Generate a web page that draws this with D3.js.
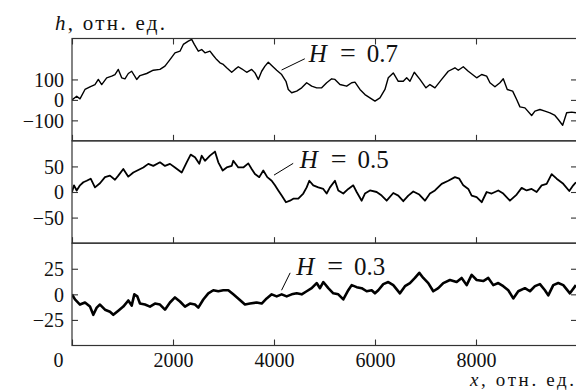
<!DOCTYPE html>
<html>
<head>
<meta charset="utf-8">
<script src="https://cdn.jsdelivr.net/npm/d3@7"></script>
<style>
  body { margin: 0; background: #fff; }
  svg { display: block; }
</style>
</head>
<body>
<svg id="chart" width="576" height="392"></svg>
<script>
// tick labels
const xTicks = [0, 2000, 4000, 6000, 8000]
const ticks07 = [-100, 0, 100]
const ticks05 = [-50, 0, 50]
const ticks03 = [-25, 0, 25]

// traces: [x, h]
const h07 = [
  [0, 0], [93, 18], [158, 5], [257, 51], [356, 64], [455, 75], [521, 100], [588, 75],
  [687, 108], [786, 116], [851, 124], [917, 149], [984, 108], [1049, 103], [1115, 129],
  [1182, 140], [1281, 100], [1346, 119], [1479, 129], [1610, 145], [1742, 149], [1841, 165],
  [1940, 197], [2039, 230], [2138, 238], [2204, 271], [2303, 287], [2370, 296], [2422, 271],
  [2501, 238], [2568, 246], [2633, 230], [2732, 238], [2798, 217], [2865, 197], [2930, 181],
  [2996, 173], [3063, 157], [3162, 135], [3227, 149], [3293, 162], [3360, 152], [3459, 135],
  [3558, 149], [3623, 132], [3689, 100], [3756, 140], [3821, 165], [3887, 184], [3954, 168],
  [4053, 145], [4152, 124], [4237, 91], [4283, 51], [4350, 35], [4449, 43], [4548, 59],
  [4647, 84], [4746, 67], [4845, 59], [4944, 59], [5043, 84], [5142, 103], [5207, 100],
  [5306, 75], [5439, 67], [5538, 84], [5603, 87], [5702, 51], [5801, 26], [5900, 10],
  [5999, -6], [6098, 10], [6197, 51], [6263, 108], [6362, 132], [6461, 91], [6560, 91],
  [6627, 108], [6692, 91], [6778, 135], [6890, 100], [7009, 59], [7088, 75], [7187, 59],
  [7320, 100], [7451, 140], [7583, 157], [7649, 145], [7748, 162], [7847, 140], [8013, 108],
  [8112, 124], [8211, 116], [8276, 84], [8375, 64], [8474, 84], [8540, 103], [8619, 51],
  [8726, 43], [8805, 2], [8870, -34], [8969, -39], [9102, -76], [9167, -55], [9266, -47],
  [9365, -55], [9464, -63], [9563, -76], [9629, -96], [9716, -124], [9795, -63], [9894, -60],
  [9979, -63]
]

const h05 = [
  [0, 0], [40, 13], [93, 3], [158, 13], [224, 19], [291, 22], [370, 26], [455, 9], [554, 17],
  [653, 29], [752, 32], [851, 24], [917, 32], [1016, 45], [1115, 30], [1214, 38], [1313, 43],
  [1412, 48], [1511, 55], [1610, 51], [1742, 58], [1841, 51], [1940, 55], [2039, 48],
  [2172, 38], [2271, 58], [2350, 73], [2435, 68], [2521, 55], [2568, 71], [2633, 61],
  [2732, 71], [2831, 79], [2897, 58], [2984, 42], [3063, 48], [3162, 51], [3194, 61],
  [3293, 48], [3392, 48], [3491, 56], [3558, 45], [3623, 35], [3709, 29], [3788, 42],
  [3867, 29], [3954, 22], [4019, 13], [4085, 3], [4152, -7], [4237, -20], [4316, -17],
  [4382, -13], [4481, -13], [4580, -3], [4647, 9], [4699, 22], [4778, 13], [4877, 9],
  [4976, 6], [5043, -3], [5108, 9], [5207, 22], [5273, 3], [5372, -3], [5471, 6], [5570, 13],
  [5637, 0], [5736, -17], [5801, -3], [5900, 3], [6033, 0], [6132, -7], [6231, -17],
  [6362, -2], [6461, -7], [6560, -18], [6659, -7], [6758, 1], [6877, -5], [6989, -17],
  [7088, -3], [7187, 3], [7320, 16], [7451, 22], [7583, 29], [7669, 26], [7748, 13],
  [7847, 6], [7914, -7], [8013, -10], [8112, -20], [8211, 0], [8310, -3], [8441, 3],
  [8540, -3], [8672, -17], [8805, -5], [8904, 8], [9003, 3], [9102, 6], [9201, 0],
  [9300, 13], [9399, 16], [9498, 35], [9597, 26], [9728, 16], [9847, 2], [9926, 13], [9979, 19]
]

const h03 = [
  [0, 0], [59, -5], [158, -10], [257, -8], [356, -12], [422, -20], [489, -13], [554, -10],
  [653, -15], [752, -17], [818, -20], [917, -16], [1016, -12], [1115, -6], [1182, -11],
  [1234, 0], [1293, -2], [1346, -9], [1445, -10], [1544, -12], [1643, -9], [1742, -10],
  [1841, -15], [1940, -8], [2039, -3], [2138, -7], [2237, -12], [2336, -9], [2435, -10],
  [2501, -13], [2600, -5], [2699, 1], [2798, 4], [2897, 3], [2996, 4], [3095, 4], [3194, 0],
  [3313, -5], [3425, -10], [3524, -9], [3657, -8], [3756, -9], [3855, -4], [3954, 0],
  [4053, -2], [4152, 0], [4251, -2], [4350, 0], [4449, 1], [4548, 0], [4647, 3], [4746, 6],
  [4845, 11], [4910, 6], [4976, 12], [5075, 6], [5174, 1], [5273, 0], [5372, -5], [5471, 4],
  [5538, 9], [5637, 7], [5736, 6], [5835, 3], [5934, 4], [5999, 1], [6065, 4], [6164, 10],
  [6263, 12], [6362, 9], [6494, 1], [6593, 8], [6692, 11], [6791, 16], [6877, 21], [6956, 16],
  [7055, 11], [7154, 3], [7253, 6], [7352, 11], [7484, 14], [7617, 12], [7716, 16], [7815, 9],
  [7914, 19], [8013, 14], [8144, 13], [8243, 16], [8342, 9], [8441, 11], [8540, 8], [8639, 4],
  [8738, -4], [8837, 3], [8969, 6], [9068, 3], [9167, 8], [9266, 10], [9365, 4], [9431, -1],
  [9530, 9], [9629, 11], [9728, 9], [9860, 1], [9979, 9]
]

// H labels: leader from -> to, text at, all in data units
const notes = [
  { label: "0.7", from: [4150, 146], to: [4610, 201], at: [4690, 185] },
  { label: "0.5", from: [4000, 33], to: [4380, 56], at: [4510, 47] },
  { label: "0.3", from: [4150, 4], to: [4320, 21], at: [4440, 19] }
]

const panels = [
  { data: h07, domain: [-200, 300], ticks: ticks07, note: notes[0], stroke: 1.4 },
  { data: h05, domain: [-100, 100], ticks: ticks05, note: notes[1], stroke: 1.8 },
  { data: h03, domain: [-50, 50], ticks: ticks03, note: notes[2], stroke: 2.6 }
]

const mLeft = 72, mRight = 577, mTop = 38.5, mBottom = 345.5
const panelH = (mBottom - mTop) / panels.length
const serif = '"Times New Roman", Times, "Liberation Serif", "DejaVu Serif", serif'

const svg = d3.select("#chart")
  .style("font-family", serif)

const x = d3.scaleLinear()
  .domain([0, 10000])
  .range([mLeft, mRight])

panels.forEach((p, i) => {
  const y0 = mTop + i * panelH
  const y = d3.scaleLinear()
    .domain(p.domain)
    .range([y0 + panelH, y0])

  const g = svg.append("g")

  g.append("clipPath")
    .attr("id", "clip" + i)
    .append("rect")
    .attr("x", mLeft).attr("y", y0)
    .attr("width", mRight - mLeft).attr("height", panelH)

  g.append("path")
    .datum(p.data)
    .attr("clip-path", `url(#clip${i})`)
    .attr("fill", "none")
    .attr("stroke", "#000")
    .attr("stroke-width", p.stroke)
    .attr("stroke-linejoin", "round")
    .attr("d", d3.line().x(d => x(d[0])).y(d => y(d[1])))

  // axes, ticks pointing inward
  const yl = g.append("g")
    .attr("transform", `translate(${mLeft},0)`)
    .call(d3.axisLeft(y).tickValues(p.ticks).tickSize(-6).tickPadding(8))
  g.append("g")
    .attr("transform", `translate(${mRight},0)`)
    .call(d3.axisRight(y).tickValues(p.ticks).tickSize(-6).tickFormat(""))

  const last = i === panels.length - 1
  const xb = g.append("g")
    .attr("transform", `translate(0,${y0 + panelH})`)
    .call(d3.axisBottom(x).tickValues(xTicks).tickSize(-6).tickPadding(7)
      .tickFormat(last ? d3.format("d") : ""))
  if (i === 0) {
    g.append("g")
      .attr("transform", `translate(0,${y0})`)
      .call(d3.axisTop(x).tickValues(xTicks).tickSize(-6).tickFormat(""))
  }
  if (last) {
    xb.selectAll(".tick text").filter(d => d === 0).attr("dx", -14)
  }

  g.selectAll("g").attr("font-family", null)
  g.selectAll(".domain").remove()
  g.selectAll(".tick line").attr("stroke", "#333").attr("stroke-width", 1.1)
  g.selectAll(".tick text").attr("font-size", 20).attr("fill", "#111")
  yl.selectAll(".tick text").attr("dy", "0.34em")

  g.append("rect")
    .attr("x", mLeft).attr("y", y0)
    .attr("width", mRight - mLeft).attr("height", panelH)
    .attr("fill", "none")
    .attr("stroke", "#333")
    .attr("stroke-width", 1.2)

  // H annotation
  const n = p.note
  g.append("line")
    .attr("x1", x(n.from[0])).attr("y1", y(n.from[1]))
    .attr("x2", x(n.to[0])).attr("y2", y(n.to[1]))
    .attr("stroke", "#000").attr("stroke-width", 1)
  const t = g.append("text")
    .attr("x", x(n.at[0])).attr("y", y(n.at[1]))
    .attr("font-size", 25)
    .attr("fill", "#111")
  t.append("tspan").attr("font-style", "italic").text("H")
  t.append("tspan").attr("dx", 13).attr("font-size", 28).text("=")
  t.append("tspan").attr("dx", 11).text(n.label)
})

// axis titles
const ht = svg.append("text")
  .attr("x", 55).attr("y", 30)
  .attr("font-size", 21)
  .attr("fill", "#111")
  .attr("textLength", 110).attr("lengthAdjust", "spacing")
ht.append("tspan").attr("font-style", "italic").text("h")
ht.append("tspan").text(", отн. ед.")

const xt = svg.append("text")
  .attr("x", 470).attr("y", 386)
  .attr("font-size", 19)
  .attr("fill", "#111")
  .attr("textLength", 104).attr("lengthAdjust", "spacing")
xt.append("tspan").attr("font-style", "italic").text("x")
xt.append("tspan").text(", отн. ед.")
</script>
</body>
</html>
